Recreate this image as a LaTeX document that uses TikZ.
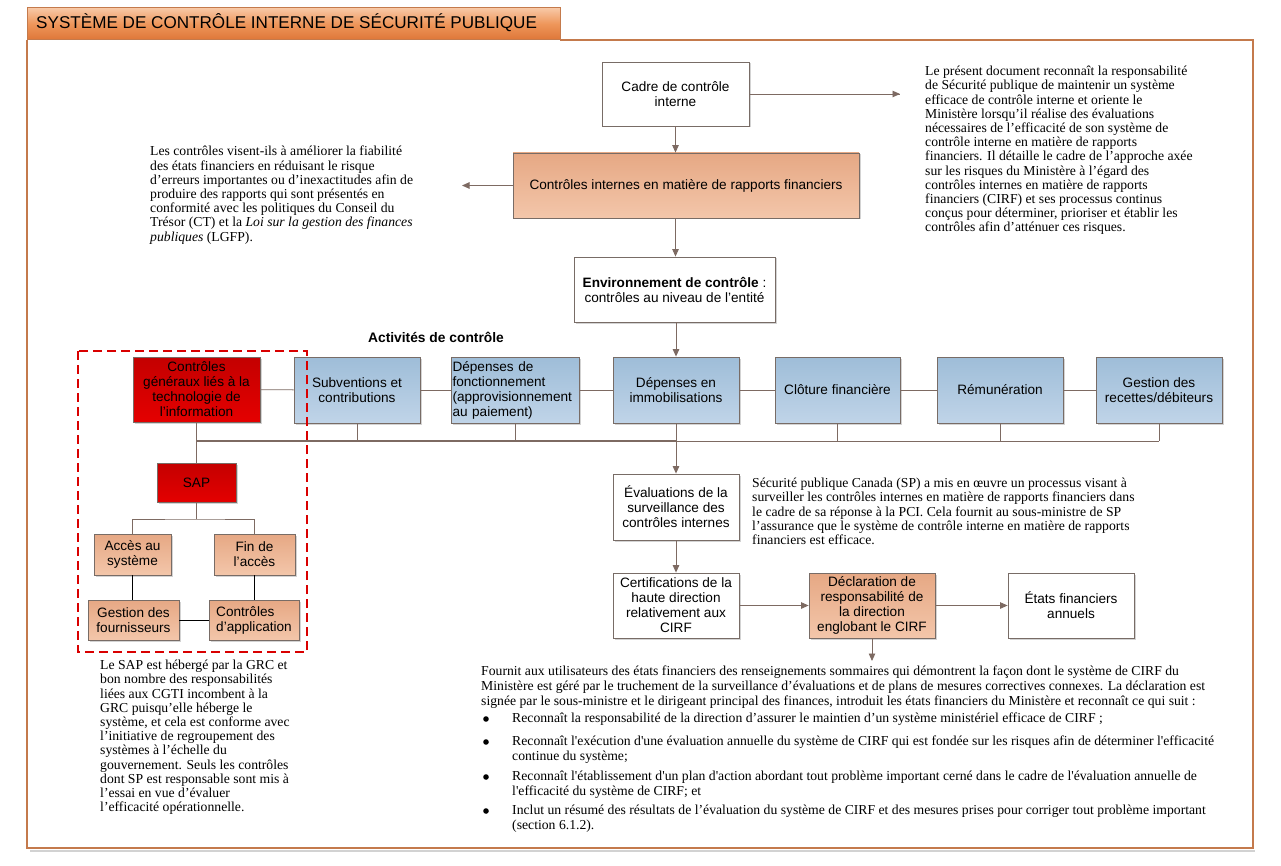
\documentclass[tikz,border=0pt]{standalone}
\usepackage{fontspec}
\setmainfont{Liberation Serif}[Ligatures=TeXOff]
\setsansfont{Liberation Sans}
\usetikzlibrary{arrows.meta,shadows}
\definecolor{lnc}{RGB}{125,106,98}
\definecolor{bdc}{RGB}{120,108,102}
\definecolor{frm}{RGB}{196,122,76}
\definecolor{bluetop}{RGB}{158,189,216}
\definecolor{bluebot}{RGB}{192,212,232}
\definecolor{peachtop}{RGB}{230,168,132}
\definecolor{peachbot}{RGB}{243,198,170}
\definecolor{redtop}{RGB}{196,0,0}
\definecolor{redbot}{RGB}{228,0,0}
\definecolor{tabtop}{RGB}{248,200,166}
\definecolor{tabmid}{RGB}{238,150,90}
\definecolor{tabbot}{RGB}{222,118,56}
\begin{document}
\begin{tikzpicture}[x=1pt,y=-1pt,
 base/.style={draw=bdc, line width=0.8pt, align=center, inner sep=1pt,
   font=\sffamily\fontsize{13.6}{15}\selectfont,
   drop shadow={shadow xshift=1.5pt,shadow yshift=-1.5pt,opacity=0.35}},
 wbox/.style={base, fill=white},
 bbox/.style={base, top color=bluetop, bottom color=bluebot},
 pbox/.style={base, top color=peachtop, bottom color=peachbot},
 rbox/.style={base, top color=redtop, bottom color=redbot},
 conn/.style={draw=lnc, line width=0.9pt},
 blk/.style={draw=black, line width=0.8pt},
 arr/.style={conn, -{Triangle[length=7.5pt,width=6.5pt]}},
 txt/.style={inner sep=0pt, anchor=north west, align=left,
   font=\rmfamily\fontsize{13.7}{14.2}\selectfont},
 btxt/.style={txt, font=\rmfamily\fontsize{13.7}{15}\selectfont},
]
\useasboundingbox (0,0) rectangle (1281,866);
% frame
\draw[gray!35, line width=2pt] (30,850.5) -- (1255,850.5);
\draw[frm, line width=1.2pt] (560,40) -- (1253,40) -- (1253,848) -- (27,848) -- (27,40);
\draw[draw=frm, line width=1pt, top color=tabtop, bottom color=tabbot, middle color=tabmid] (27,8) rectangle (560,40);
\node[anchor=west, inner sep=0pt, font=\sffamily\fontsize{17.1}{19}\selectfont] (title) at (36,23) {SYSTÈME DE CONTRÔLE INTERNE DE SÉCURITÉ PUBLIQUE};

% top boxes
\node[wbox, minimum width=147, minimum height=64] (cadre) at (675.5,94) {Cadre de contrôle\\interne};
\node[pbox, minimum width=346, minimum height=65] (cirf) at (686,185.5) {Contrôles internes en matière de rapports financiers};
\node[wbox, minimum width=201, minimum height=65] (env) at (674.5,289.5) {\textbf{Environnement de contrôle} :\\ contrôles au niveau de l’entité};

\coordinate (rta) at (900,94);
\coordinate (lta) at (462,185.5);
\draw[conn] (cadre.east) -- (rta);
\draw[arr] (rta) ++(-10,0) -- (rta);
\draw[arr] (cadre.south) -- (cadre.south |- cirf.north);
\draw[arr] (cirf.west) -- (lta);
\draw[arr] (cadre.south |- cirf.south) -- (cadre.south |- env.north);

\node[font=\sffamily\bfseries\fontsize{13.8}{15}\selectfont, inner sep=0pt] (act) at (436,337) {Activités de contrôle};

% control activities row
\node[rbox, minimum width=127, minimum height=65] (cgti) at (196.5,389.5) {Contrôles\\généraux liés à la\\technologie de\\l’information};
\node[bbox, minimum width=126, minimum height=66] (sub) at (357,390) {Subventions et\\contributions};
\node[bbox, minimum width=128, minimum height=66, align=left, text width=125] (depf) at (515,390) {Dépenses de\\fonctionnement\\(approvisionnement\\au paiement)};
\node[bbox, minimum width=126, minimum height=66] (imm) at (676,390) {Dépenses en\\immobilisations};
\node[bbox, minimum width=125, minimum height=66] (clo) at (837.5,390) {Clôture financière};
\node[bbox, minimum width=126, minimum height=66] (rem) at (1000,390) {Rémunération};
\node[bbox, minimum width=126, minimum height=66] (ges) at (1159,390) {Gestion des\\recettes/débiteurs};

\draw[arr] (env.south -| imm.north) -- (imm.north);
\draw[conn] (cgti) -- (sub);
\draw[conn] (sub) -- (depf);
\draw[conn] (depf) -- (imm);
\draw[conn] (imm) -- (clo);
\draw[conn] (clo) -- (rem);
\draw[conn] (rem) -- (ges);

\coordinate (bus) at (676,441);
\draw[conn, line width=1.4pt] (cgti.south |- bus) -- (bus);
\draw[conn] (bus) -- (ges.south |- bus);
\foreach \n in {sub,depf,clo,rem,ges}{\draw[conn] (\n.south) -- (\n.south |- bus);}

% SAP subtree
\node[rbox, minimum width=79, minimum height=39] (sap) at (196.5,482.5) {SAP};
\node[pbox, minimum width=77, minimum height=41] (acc) at (132.5,554.5) {Accès au\\système};
\node[pbox, minimum width=81, minimum height=41] (fin) at (254.5,554.5) {Fin de\\l’accès};
\node[pbox, minimum width=91, minimum height=40] (gfo) at (133.5,620) {Gestion des\\fournisseurs};
\node[pbox, minimum width=90, minimum height=40, align=left] (capp) at (254,620) {Contrôles\\d’application};
\draw[conn] (cgti.south) -- (sap.north -| cgti.south);
\coordinate (sapj) at (196.5,519);
\draw[conn] (sap.south) -- (sapj);
\draw[conn] (acc.north) |- (sapj) -| (fin.north);
\draw[blk] (acc.south) -- (acc.south |- gfo.north);
\draw[blk] (fin.south) -- (fin.south |- capp.north);
\draw[blk] (gfo.east) -- (capp.west);
\draw[red!85!black, line width=1.2pt, dash pattern=on 9pt off 5pt] (78,351) rectangle (307,652);

% monitoring chain
\node[wbox, minimum width=126, minimum height=66] (eval) at (676,507) {Évaluations de la\\surveillance des\\contrôles internes};
\node[wbox, minimum width=126, minimum height=65] (cert) at (676,605.5) {Certifications de la\\haute direction\\relativement aux\\CIRF};
\node[pbox, minimum width=126, minimum height=65] (decl) at (872,605.5) {Déclaration de\\responsabilité de\\la direction\\englobant le CIRF};
\node[wbox, minimum width=126, minimum height=65] (etats) at (1071,605.5) {États financiers\\annuels};
\draw[arr] (imm.south) -- (eval.north);
\draw[arr] (eval.south) -- (cert.north);
\draw[arr] (cert.east) -- (decl.west);
\draw[arr] (decl.east) -- (etats.west);
\coordinate (decle) at (872,661);
\draw[arr] (decl.south) -- (decle);

% texts
\node[txt] (tl) at (150,146) {Les contrôles visent-ils à améliorer la fiabilité\\des états financiers en réduisant le risque\\d’erreurs importantes ou d’inexactitudes afin de\\produire des rapports qui sont présentés en\\conformité avec les politiques du Conseil du\\Trésor (CT) et la \textit{Loi sur la gestion des finances}\\\textit{publiques} (LGFP).};

\node[txt] (tr) at (925,66) {Le présent document reconnaît la responsabilité\\de Sécurité publique de maintenir un système\\efficace de contrôle interne et oriente le\\Ministère lorsqu’il réalise des évaluations\\nécessaires de l’efficacité de son système de\\contrôle interne en matière de rapports\\financiers. Il détaille le cadre de l’approche axée\\sur les risques du Ministère à l’égard des\\contrôles internes en matière de rapports\\financiers (CIRF) et ses processus continus\\conçus pour déterminer, prioriser et établir les\\contrôles afin d’atténuer ces risques.};

\node[txt] (et) at (752,478) {Sécurité publique Canada (SP) a mis en œuvre un processus visant à\\surveiller les contrôles internes en matière de rapports financiers dans\\le cadre de sa réponse à la PCI. Cela fournit au sous-ministre de SP\\l’assurance que le système de contrôle interne en matière de rapports\\financiers est efficace.};

\node[txt] (lb) at (100,660) {Le SAP est hébergé par la GRC et\\bon nombre des responsabilités\\liées aux CGTI incombent à la\\GRC puisqu’elle héberge le\\système, et cela est conforme avec\\l’initiative de regroupement des\\systèmes à l’échelle du\\gouvernement. Seuls les contrôles\\dont SP est responsable sont mis à\\l’essai en vue d’évaluer\\l’efficacité opérationnelle.};

\node[btxt] (bp) at (481,666) {Fournit aux utilisateurs des états financiers des renseignements sommaires qui démontrent la façon dont le système de CIRF du\\Ministère est géré par le truchement de la surveillance d’évaluations et de plans de mesures correctives connexes. La déclaration est\\signée par le sous-ministre et le dirigeant principal des finances, introduit les états financiers du Ministère et reconnaît ce qui suit :};

\node[btxt] (b1) at (512,713) {Reconnaît la responsabilité de la direction d’assurer le maintien d’un système ministériel efficace de CIRF~;};
\node[btxt] (b2) at (512,736) {Reconnaît l'exécution d'une évaluation annuelle du système de CIRF qui est fondée sur les risques afin de déterminer l'efficacité\\continue du système;};
\node[btxt] (b3) at (512,771) {Reconnaît l'établissement d'un plan d'action abordant tout problème important cerné dans le cadre de l'évaluation annuelle de\\l'efficacité du système de CIRF; et};
\node[btxt] (b4) at (512,805) {Inclut un résumé des résultats de l’évaluation du système de CIRF et des mesures prises pour corriger tout problème important\\(section 6.1.2).};
\foreach \yy in {719,742,777,811}{\fill (486,\yy) circle (2.8pt);}
\end{tikzpicture}
\end{document}
